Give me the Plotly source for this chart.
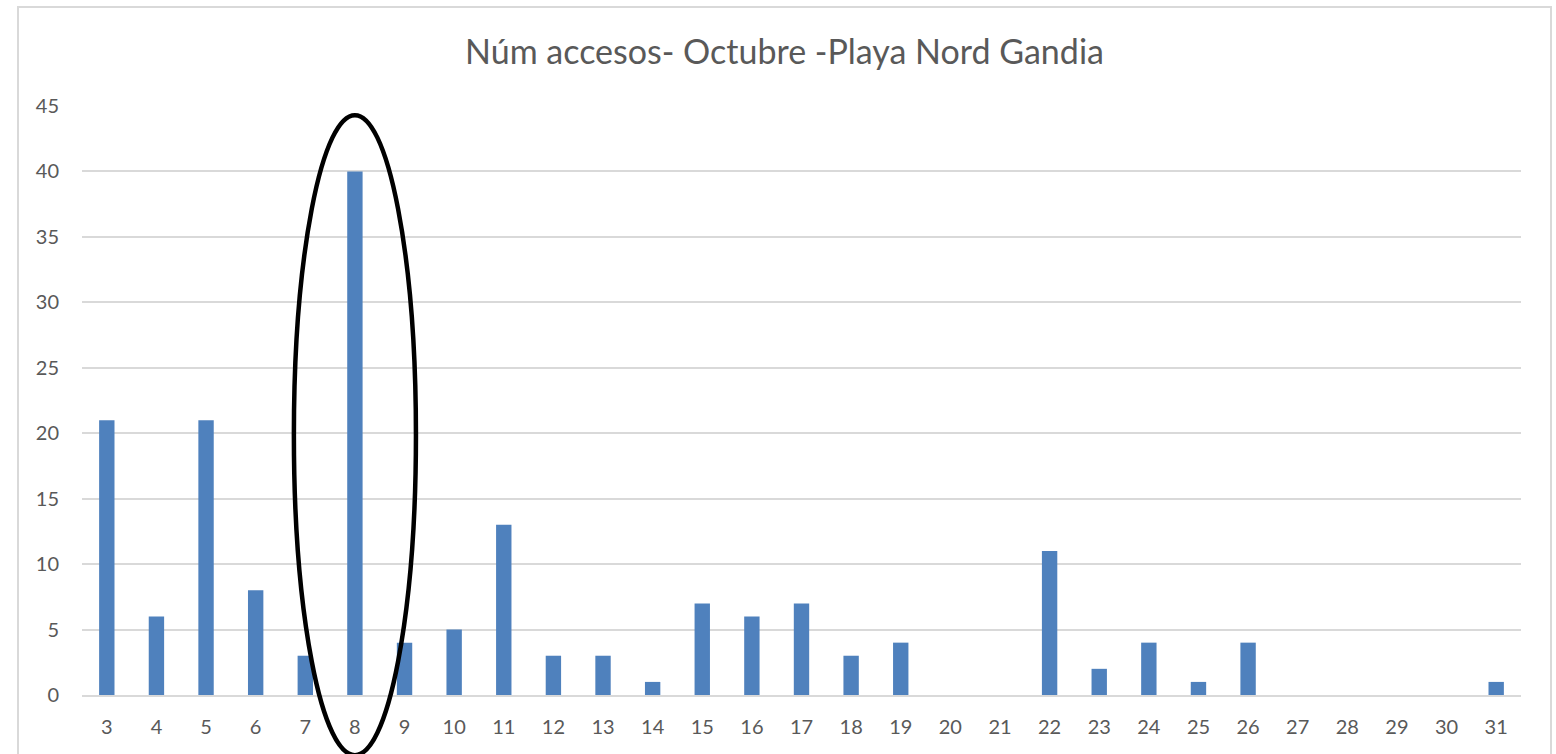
import plotly.graph_objects as go

# Daily access counts, October
dias = [str(d) for d in range(3, 32)]
accesos = [21, 6, 21, 8, 3, 40, 4, 5, 13, 3, 3, 1, 7, 6, 7, 3, 4, 0, 0, 11,
           2, 4, 1, 4, 0, 0, 0, 0, 1]
y_ticks = [0, 5, 10, 15, 20, 25, 30, 35, 40, 45]
dia_destacado = "8"

W, H = 1556, 754
M_L, M_R, M_T, M_B = 82, 35, 106, 59
FONT = "Lato, Open Sans, sans-serif"
GRAY = "#595959"
GRID = "#d9d9d9"

fig = go.Figure(
    go.Bar(x=dias, y=accesos, marker=dict(color="#4F81BD", line=dict(width=0)))
)

n = len(dias)
i = dias.index(dia_destacado)
cx = (i + 0.5) / n
half_w = 1.23 / n

# Highlight ellipse around the peak day
fig.add_shape(
    type="circle", xref="x domain", yref="y domain",
    x0=cx - half_w, x1=cx + half_w,
    y0=-4.6 / 45, y1=44.3 / 45,
    line=dict(color="black", width=4.5), layer="above",
)

# Outer chart frame
pw = W - M_L - M_R
ph = H - M_T - M_B
fig.add_shape(
    type="rect", xref="paper", yref="paper",
    x0=(18 - M_L) / pw, x1=(1551 - M_L) / pw,
    y0=(H - M_B - 800) / ph, y1=(H - M_B - 7) / ph,
    line=dict(color=GRID, width=2), layer="below",
)

fig.update_layout(
    width=W, height=H,
    margin=dict(l=M_L, r=M_R, t=M_T, b=M_B),
    paper_bgcolor="white", plot_bgcolor="white",
    bargap=0.69,
    showlegend=False,
    title=dict(
        text="Núm accesos- Octubre -Playa Nord Gandia",
        x=(465 + 1104) / 2 / W, xanchor="center",
        y=1 - 52 / H, yanchor="middle",
        font=dict(family=FONT, size=34, color=GRAY),
    ),
    font=dict(family=FONT, size=20, color=GRAY),
)
fig.update_xaxes(
    type="category", showgrid=False, showline=True, linecolor=GRID,
    linewidth=1.5, ticks="", ticklabelstandoff=13,
    tickfont=dict(family=FONT, size=20, color=GRAY),
)
fig.update_yaxes(
    range=[0, 45], tickvals=y_ticks, showgrid=True, gridcolor=GRID,
    gridwidth=1.5, zeroline=False, showline=False, ticks="",
    ticklabelstandoff=22,
    tickfont=dict(family=FONT, size=20, color=GRAY),
)

fig.write_html("out.html")
